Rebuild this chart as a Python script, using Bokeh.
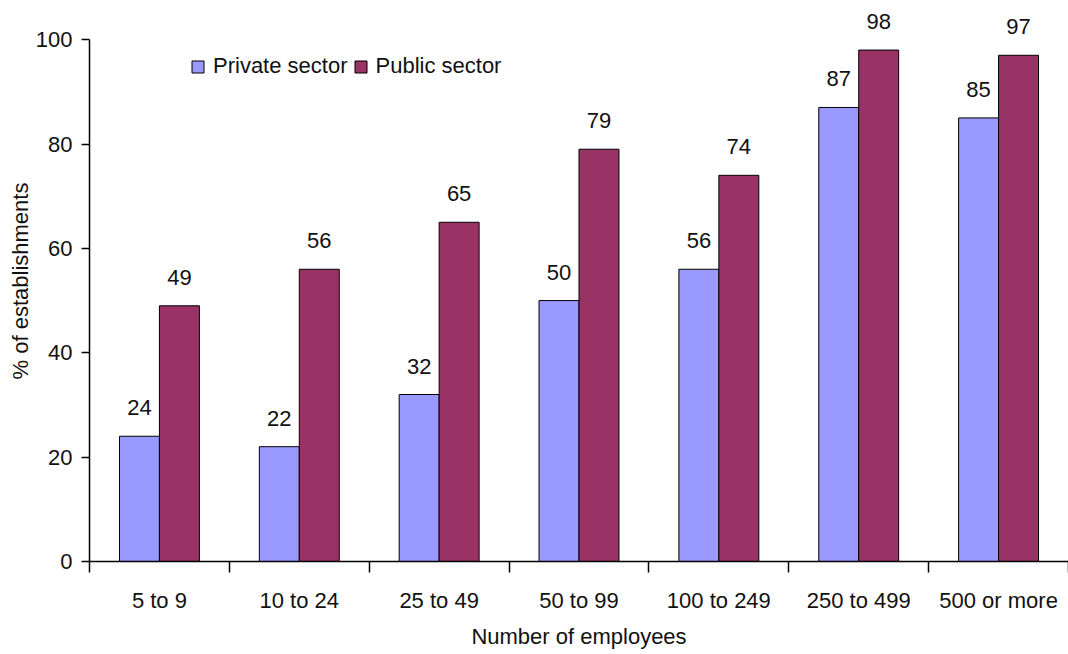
import numpy as np
from bokeh.plotting import figure
from bokeh.models import (ColumnDataSource, Range1d, FixedTicker, Legend, LegendItem)
from bokeh.core.properties import value
from bokeh.embed import file_html
from bokeh.resources import INLINE

# Share of establishments by size band
categories = ["5 to 9", "10 to 24", "25 to 49", "50 to 99", "100 to 249", "250 to 499", "500 or more"]
private_sector = [24, 22, 32, 50, 56, 87, 85]
public_sector = [49, 56, 65, 79, 74, 98, 97]
y_ticks = [0, 20, 40, 60, 80, 100]

FONT = "Liberation Sans"
FS = "22px"
PRIVATE_COLOR = "#9999FF"
PUBLIC_COLOR = "#993366"
TEXT_COLOR = "#111111"

n = len(categories)
centers = np.arange(n) + 0.5
bar_w = 0.2857

src = ColumnDataSource(dict(
    x_priv=centers - bar_w / 2,
    x_pub=centers + bar_w / 2,
    private=private_sector,
    public=public_sector,
    private_lbl=[str(v) for v in private_sector],
    public_lbl=[str(v) for v in public_sector],
))

# headroom above 100 so the value labels of the tallest bars stay visible
p = figure(width=1068, height=654, output_backend="svg", toolbar_location=None,
           x_range=Range1d(0, n), y_range=Range1d(0, 107.5),
           min_border_left=89, min_border_right=0, min_border_top=0, min_border_bottom=93)
p.outline_line_color = None
p.xgrid.visible = False
p.ygrid.visible = False
p.background_fill_color = "white"

r_priv = p.vbar(x="x_priv", top="private", width=bar_w, source=src,
                fill_color=PRIVATE_COLOR, line_color="black", line_width=1)
r_pub = p.vbar(x="x_pub", top="public", width=bar_w, source=src,
               fill_color=PUBLIC_COLOR, line_color="black", line_width=1)

# value labels above each bar
for xcol, ycol, tcol in [("x_priv", "private", "private_lbl"), ("x_pub", "public", "public_lbl")]:
    p.text(x=xcol, y=ycol, text=tcol, source=src, text_align="center",
           text_baseline="bottom", y_offset=-21, text_font=value(FONT),
           text_font_size=FS, text_color=TEXT_COLOR)

# x axis: labels centred in each band, tick marks on band boundaries
xax = p.xaxis[0]
xax.ticker = FixedTicker(ticks=list(centers), minor_ticks=list(range(n + 1)))
xax.major_label_overrides = {float(c): lab for c, lab in zip(centers, categories)}
xax.major_tick_out = 0
xax.major_tick_in = 0
xax.minor_tick_out = 11
xax.minor_tick_in = 0
xax.minor_tick_line_color = "black"
xax.minor_tick_line_width = 1.5
xax.axis_line_color = "black"
xax.axis_line_width = 1.5
xax.major_label_standoff = 15
xax.major_label_text_font = FONT
xax.major_label_text_font_size = FS
xax.major_label_text_color = TEXT_COLOR
xax.axis_label = "Number of employees"
xax.axis_label_text_font = FONT
xax.axis_label_text_font_size = FS
xax.axis_label_text_font_style = "normal"
xax.axis_label_text_color = TEXT_COLOR
xax.axis_label_standoff = 8

yax = p.yaxis[0]
yax.ticker = FixedTicker(ticks=y_ticks, minor_ticks=[])
yax.bounds = (0, 100)
yax.major_tick_out = 8
yax.major_tick_in = 0
yax.major_tick_line_width = 1.5
yax.axis_line_width = 1.5
yax.axis_line_color = "black"
yax.major_label_standoff = 9
yax.major_label_text_font = FONT
yax.major_label_text_font_size = FS
yax.major_label_text_color = TEXT_COLOR
yax.axis_label = "% of establishments"
yax.axis_label_text_font = FONT
yax.axis_label_text_font_size = FS
yax.axis_label_text_font_style = "normal"
yax.axis_label_text_color = TEXT_COLOR
yax.axis_label_standoff = 0

legend = Legend(items=[LegendItem(label="Private sector", renderers=[r_priv]),
                       LegendItem(label="Public sector", renderers=[r_pub])],
                orientation="horizontal", location=(101, 482),
                glyph_width=15, glyph_height=15, label_standoff=8, spacing=5,
                padding=0, margin=0, border_line_color=None, background_fill_alpha=0,
                label_text_font=FONT, label_text_font_size=FS,
                label_text_color=TEXT_COLOR)
p.add_layout(legend, "center")

open("out.html", "w").write(file_html(p, INLINE))
